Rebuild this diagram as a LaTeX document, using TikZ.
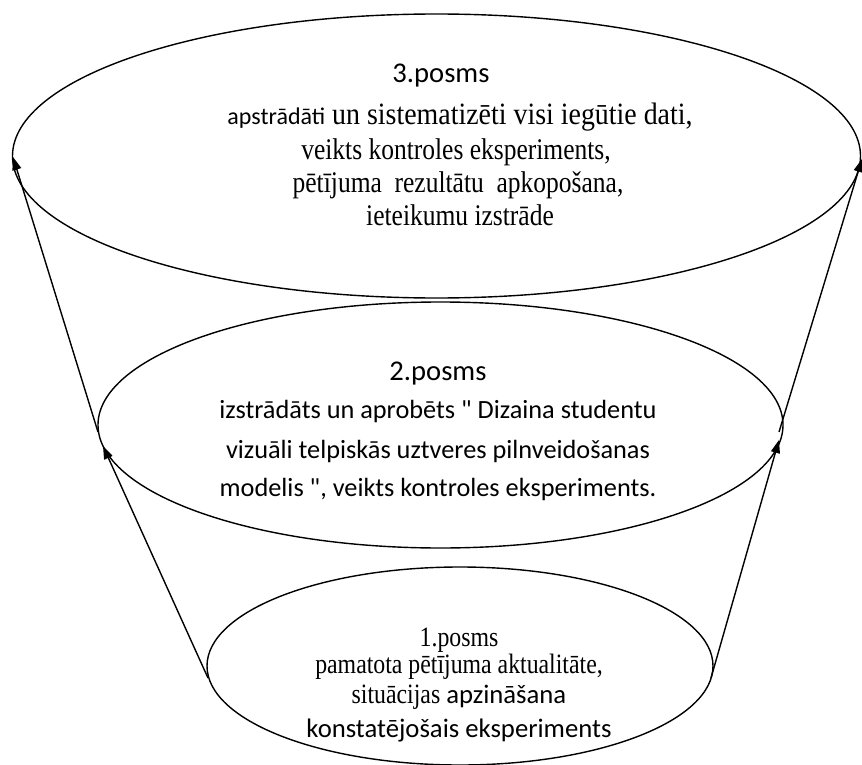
\documentclass[tikz,border=0pt]{standalone}
\usepackage{fontspec}
\setmainfont{Liberation Serif}
\newfontfamily\carlitofam{Carlito}
\newfontfamily\timesnarrow[FakeStretch=0.85]{Liberation Serif}
\newfontfamily\timeswide[FakeStretch=0.9]{Liberation Serif}
\usetikzlibrary{shapes.geometric,arrows.meta}
\begin{document}
\begin{tikzpicture}[x=1pt,y=-1pt,
  oval/.style={draw,ellipse,line width=1.4pt,inner sep=0pt},
  up/.style={line width=1.4pt,-{Triangle[length=13pt,width=9pt]}},
  tm/.style={font=\timesnarrow\fontsize{30}{33}\selectfont,inner sep=0pt,anchor=base},
  tmb/.style={font=\timesnarrow\fontsize{28}{31}\selectfont,inner sep=0pt,anchor=base},
  cb/.style={font=\carlitofam\fontsize{26.3}{30}\selectfont,inner sep=0pt,anchor=base},
  hd/.style={font=\carlitofam\fontsize{28.6}{32}\selectfont,inner sep=0pt,anchor=base}]
\useasboundingbox (0,0) rectangle (862,765);
% ellipses
\node[oval,minimum width=848pt,minimum height=284pt] (e3) at (436.5,156) {};
\node[oval,minimum width=685pt,minimum height=246pt] (e2) at (440.5,425) {};
\node[oval,minimum width=506pt,minimum height=198pt] (e1) at (460,666) {};
% top text
\node[hd] (t3a) at (441,83) {3.posms};
\node[tm,font=\timeswide\fontsize{31}{34}\selectfont] (t3b) at (460,125) {{\carlitofam\fontsize{24}{27}\selectfont apstrādāti} un sistematizēti visi iegūtie dati,};
\node[tm] (t3c) at (456,160) {veikts kontroles eksperiments,};
\node[tm] (t3d) at (458,192) {pētījuma\ \ rezultātu\ \ apkopošana,};
\node[tm] (t3e) at (460,225) {ieteikumu izstrāde};
% middle text
\node[hd] (t2a) at (438,380) {2.posms};
\node[cb] (t2b) at (438,418) {izstrādāts un aprobēts " Dizaina studentu};
\node[cb] (t2c) at (438,458) {vizuāli telpiskās uztveres pilnveidošanas};
\node[cb] (t2d) at (438,496) {modelis ", veikts kontroles eksperiments.};
% bottom text
\node[tmb] (t1a) at (459,646) {1.posms};
\node[tmb] (t1b) at (459,673) {pamatota pētījuma aktualitāte,};
\node[cb,font=\carlitofam\fontsize{26.7}{30}\selectfont] (t1c) at (459,703) {{\timesnarrow\fontsize{28}{31}\selectfont situācijas} apzināšana};
\node[cb,font=\carlitofam\fontsize{26.7}{30}\selectfont] (t1d) at (459,737) {konstatējošais eksperiments};
% arrow points
\coordinate (l1) at (208,678);
\coordinate (l2a) at (103,446);
\coordinate (l2) at (98,432);
\coordinate (l3) at (13,157);
\coordinate (r1) at (711,678);
\coordinate (r2a) at (779,440);
\coordinate (r2) at (779,432);
\coordinate (r3) at (862,159);
\draw[up] (l1) -- (l2a);
\draw[up] (l2) -- (l3);
\draw[up] (r1) -- (r2a);
\draw[up] (r2) -- (r3);
\end{tikzpicture}
\end{document}
